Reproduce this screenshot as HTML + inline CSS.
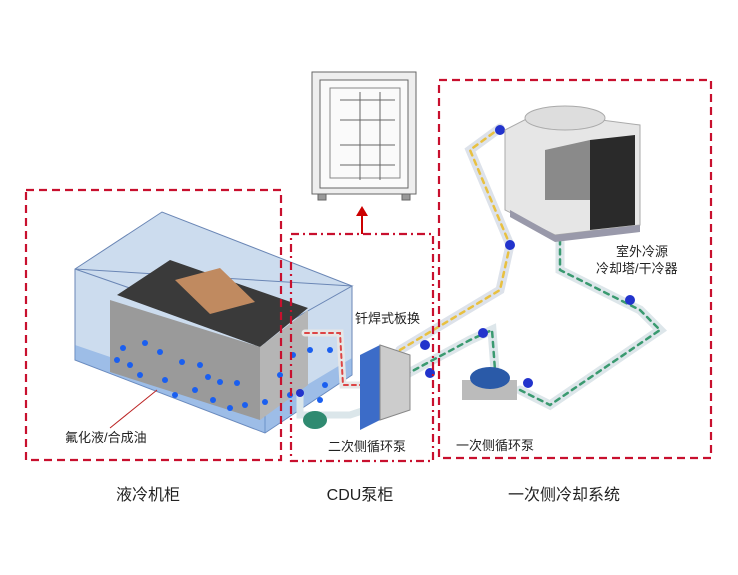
<!DOCTYPE html>
<html><head><meta charset="utf-8"><style>
body{margin:0;background:#fff;}
svg{display:block}
text{font-family:"Liberation Sans","Noto Sans CJK SC",sans-serif;fill:#222}
</style></head><body>
<svg width="738" height="575" viewBox="0 0 738 575" xmlns="http://www.w3.org/2000/svg">
<!-- CDU cabinet image -->
<g stroke="#666" fill="#f2f2f2" stroke-width="1">
<rect x="312" y="72" width="104" height="122" fill="#eee"/>
<rect x="320" y="80" width="88" height="108" fill="#fafafa"/>
<rect x="330" y="88" width="70" height="90" fill="none" stroke="#888"/>
<line x1="340" y1="100" x2="395" y2="100"/><line x1="340" y1="120" x2="395" y2="120"/><line x1="340" y1="145" x2="395" y2="145"/><line x1="340" y1="165" x2="395" y2="165"/>
<line x1="360" y1="92" x2="360" y2="180"/><line x1="380" y1="92" x2="380" y2="180"/>
<rect x="318" y="194" width="8" height="6" fill="#999"/><rect x="402" y="194" width="8" height="6" fill="#999"/>
</g>
<!-- arrow -->
<line x1="362" y1="234" x2="362" y2="214" stroke="#c00" stroke-width="2"/>
<polygon points="356,216 362,206 368,216" fill="#c00"/>
<!-- tank -->
<polygon points="75,269 162,212 352,286 352,375 265,433 75,360" fill="#ccdcee" stroke="#6a86b5"/>
<polygon points="75,269 265,335 352,286" fill="none" stroke="#6a86b5"/>
<line x1="265" y1="335" x2="265" y2="433" stroke="#6a86b5"/>
<polygon points="75,345 265,410 352,358 352,375 265,433 75,360" fill="#6d9ee0" opacity="0.5"/>
<!-- server block -->
<polygon points="117,295 170,260 308,308 260,347" fill="#3a3a3a"/>
<polygon points="175,280 220,268 255,302 210,314" fill="#c08a60"/>
<polygon points="110,300 260,347 260,420 110,372" fill="#9a9a9a"/>
<polygon points="260,347 308,310 308,385 260,420" fill="#b5b5b5"/>
<g fill="#1a5ff0">
<circle cx="123" cy="348" r="3"/><circle cx="130" cy="365" r="3"/><circle cx="145" cy="343" r="3"/><circle cx="160" cy="352" r="3"/><circle cx="117" cy="360" r="3"/>
<circle cx="140" cy="375" r="3"/><circle cx="165" cy="380" r="3"/><circle cx="182" cy="362" r="3"/><circle cx="200" cy="365" r="3"/><circle cx="208" cy="377" r="3"/>
<circle cx="220" cy="382" r="3"/><circle cx="237" cy="383" r="3"/><circle cx="195" cy="390" r="3"/><circle cx="213" cy="400" r="3"/><circle cx="230" cy="408" r="3"/>
<circle cx="245" cy="405" r="3"/><circle cx="280" cy="375" r="3"/><circle cx="293" cy="355" r="3"/><circle cx="310" cy="350" r="3"/><circle cx="325" cy="385" r="3"/>
<circle cx="330" cy="350" r="3"/><circle cx="320" cy="400" r="3"/><circle cx="290" cy="395" r="3"/><circle cx="265" cy="402" r="3"/><circle cx="175" cy="395" r="3"/>
</g>
<line x1="157" y1="390" x2="110" y2="428" stroke="#b22" stroke-width="1"/>
<!-- pipes -->
<g fill="none" stroke-linecap="round">
<path d="M305,333 L340,333 L343,385 L370,385" stroke="#e6e6e6" stroke-width="7"/>
<path d="M305,333 L340,333 L343,385 L370,385" stroke="#d44" stroke-width="2" stroke-dasharray="4 4"/>
<path d="M300,395 L300,415 L350,415 L380,405" stroke="#dbe6ea" stroke-width="7"/>
<path d="M400,350 L500,290 L510,245 L470,150 L500,128" stroke="#dde2ea" stroke-width="9"/>
<path d="M400,350 L500,290 L510,245 L470,150 L500,128" stroke="#e8c040" stroke-width="2.5" stroke-dasharray="5 5"/>
<path d="M405,375 L470,340 L492,330 L495,370" stroke="#dde6ea" stroke-width="9"/>
<path d="M405,375 L470,340 L492,330 L495,370" stroke="#3a9a70" stroke-width="2.5" stroke-dasharray="5 5"/>
<path d="M520,390 L550,405 L660,330 L640,310 L560,270 L560,235" stroke="#dde6ea" stroke-width="9"/>
<path d="M520,390 L550,405 L660,330 L640,310 L560,270 L560,235" stroke="#3a9a70" stroke-width="2.5" stroke-dasharray="5 5"/>
</g>
<g fill="#2233cc"><circle cx="500" cy="130" r="5"/><circle cx="510" cy="245" r="5"/><circle cx="630" cy="300" r="5"/><circle cx="483" cy="333" r="5"/><circle cx="528" cy="383" r="5"/><circle cx="425" cy="345" r="5"/><circle cx="430" cy="373" r="5"/><circle cx="300" cy="393" r="4"/></g>
<!-- plate HX -->
<polygon points="360,355 380,345 380,420 360,430" fill="#3c6cc8"/>
<polygon points="380,345 410,355 410,410 380,420" fill="#ccc" stroke="#888"/>
<!-- pumps -->
<ellipse cx="315" cy="420" rx="12" ry="9" fill="#2f8a70"/>
<rect x="462" y="380" width="55" height="20" fill="#bbb"/>
<ellipse cx="490" cy="378" rx="20" ry="11" fill="#2a5aa8"/>
<!-- cooling tower -->
<polygon points="505,130 540,112 640,125 640,225 555,235 505,210" fill="#e6e6e6" stroke="#aaa"/>
<ellipse cx="565" cy="118" rx="40" ry="12" fill="#ddd" stroke="#aaa"/>
<polygon points="590,140 635,135 635,225 590,230" fill="#2a2a2a"/>
<polygon points="545,150 590,140 590,200 545,200" fill="#8a8a8a"/>
<polygon points="510,210 555,235 640,225 640,232 555,242 510,217" fill="#99a"/>
<!-- dashed boxes -->
<rect x="26" y="190" width="255" height="270" fill="none" stroke="#c8102e" stroke-width="2.2" stroke-dasharray="8 5"/>
<rect x="291" y="234" width="142" height="227" fill="none" stroke="#c8102e" stroke-width="2.2" stroke-dasharray="8 4 2 4"/>
<rect x="439" y="80" width="272" height="378" fill="none" stroke="#c8102e" stroke-width="2.2" stroke-dasharray="8 5"/>
<!-- labels -->
<text x="65" y="442" font-size="13">氟化液/合成油</text>
<text x="328" y="451" font-size="13">二次侧循环泵</text>
<text x="355" y="323" font-size="13">钎焊式板换</text>
<text x="456" y="450" font-size="13">一次侧循环泵</text>
<text x="616" y="256" font-size="13">室外冷源</text>
<text x="596" y="273" font-size="13">冷却塔/干冷器</text>
<text x="148" y="500" font-size="16" text-anchor="middle">液冷机柜</text>
<text x="360" y="500" font-size="16" text-anchor="middle">CDU泵柜</text>
<text x="564" y="500" font-size="16" text-anchor="middle">一次侧冷却系统</text>
</svg>
</body></html>
